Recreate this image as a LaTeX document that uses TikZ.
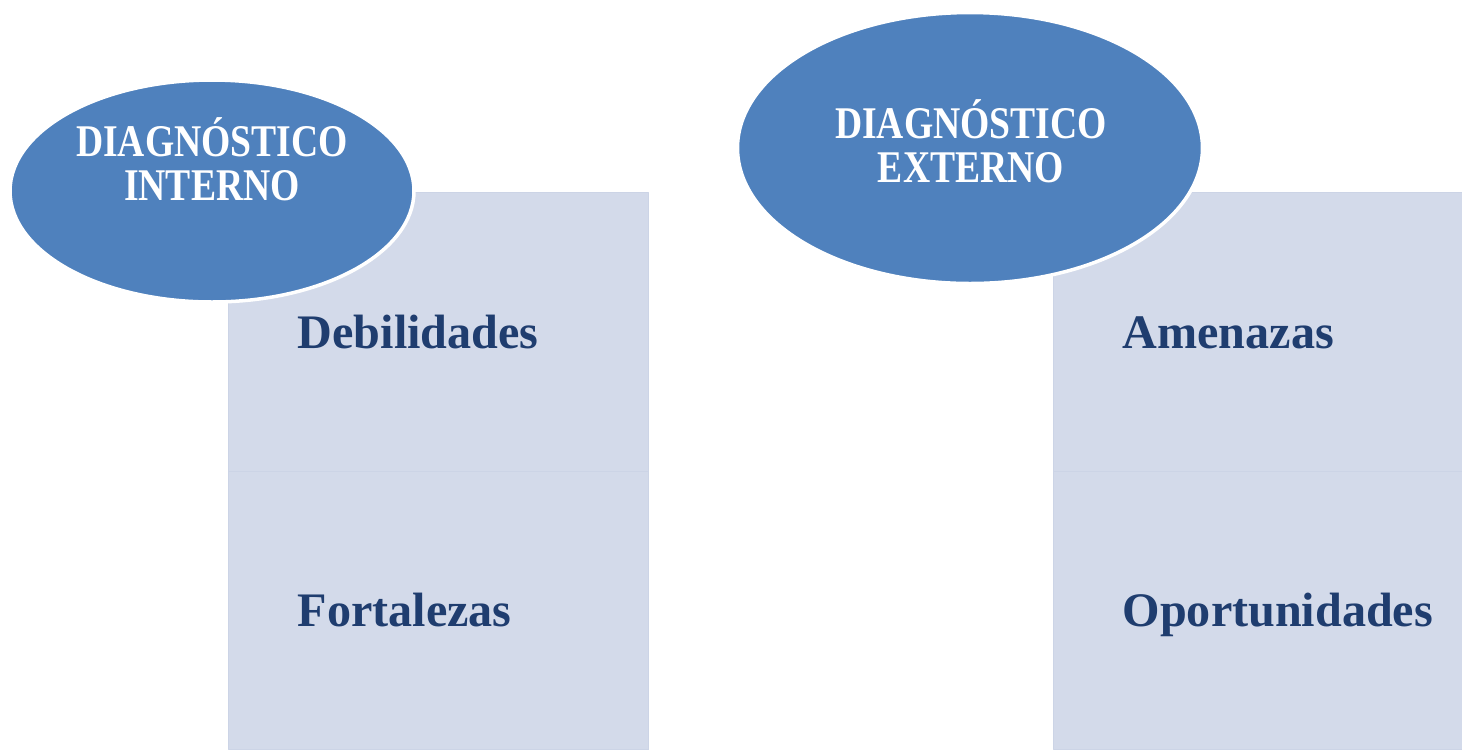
\documentclass[tikz,border=0pt]{standalone}
\usepackage{fontspec}
\setmainfont{Liberation Serif}
\newfontfamily\headfont{Liberation Serif}[FakeStretch=0.83]
\usetikzlibrary{shapes.geometric,positioning}
\definecolor{ovalblue}{HTML}{4F81BD}
\definecolor{boxfill}{HTML}{D3DAEA}
\definecolor{boxedge}{HTML}{CCD4E6}
\definecolor{labelblue}{HTML}{1F3D6F}
\begin{document}
\begin{tikzpicture}[x=0.1mm,y=-0.1mm,line join=round,
	oval/.style={ellipse,fill=ovalblue,draw=white,line width=1pt,inner sep=0pt},
	ovaltext/.style={text=white,align=center,inner sep=0pt,font=\headfont\bfseries\fontsize{12.9}{12.4}\selectfont},
	box/.style={rectangle,fill=boxfill,draw=boxedge,line width=0.4pt,anchor=north west,inner sep=0pt},
	boxtext/.style={anchor=base west,inner sep=0pt,text=labelblue,font=\bfseries\fontsize{13.7}{16}\selectfont}]
	\useasboundingbox (0,0) rectangle (1462,749);
	% Cajas del diagnostico interno
	\node[box,minimum width=42mm,minimum height=27.9mm] (debil) at (228,192) {};
	\node[box,minimum width=42mm,minimum height=27.8mm] (fort) at (228,471) {};
	\node[boxtext] (debiltxt) at ([xshift=6.9mm,yshift=-1.6mm]debil.west) {Debilidades};
	\node[boxtext] (forttxt) at ([xshift=6.9mm,yshift=-1.6mm]fort.west) {Fortalezas};
	% Cajas del diagnostico externo
	\node[box,minimum width=40.9mm,minimum height=27.9mm] (amen) at (1053,192) {};
	\node[box,minimum width=40.9mm,minimum height=27.8mm] (oport) at (1053,471) {};
	\node[boxtext] (amentxt) at ([xshift=6.9mm,yshift=-1.6mm]amen.west) {Amenazas};
	\node[boxtext] (oporttxt) at ([xshift=6.9mm,yshift=-1.6mm]oport.west) {Oportunidades};
	% Ovalos
	\node[oval,minimum width=40.4mm,minimum height=22.2mm] (intern) at (212,191) {};
	\node[ovaltext] (interntxt) at (212,159) {DIAGNÓSTICO\\INTERNO};
	\node[oval,minimum width=46.5mm,minimum height=27.1mm] (extern) at (970,148) {};
	\node[ovaltext] (externtxt) at (971,141) {DIAGNÓSTICO\\EXTERNO};
\end{tikzpicture}
\end{document}
